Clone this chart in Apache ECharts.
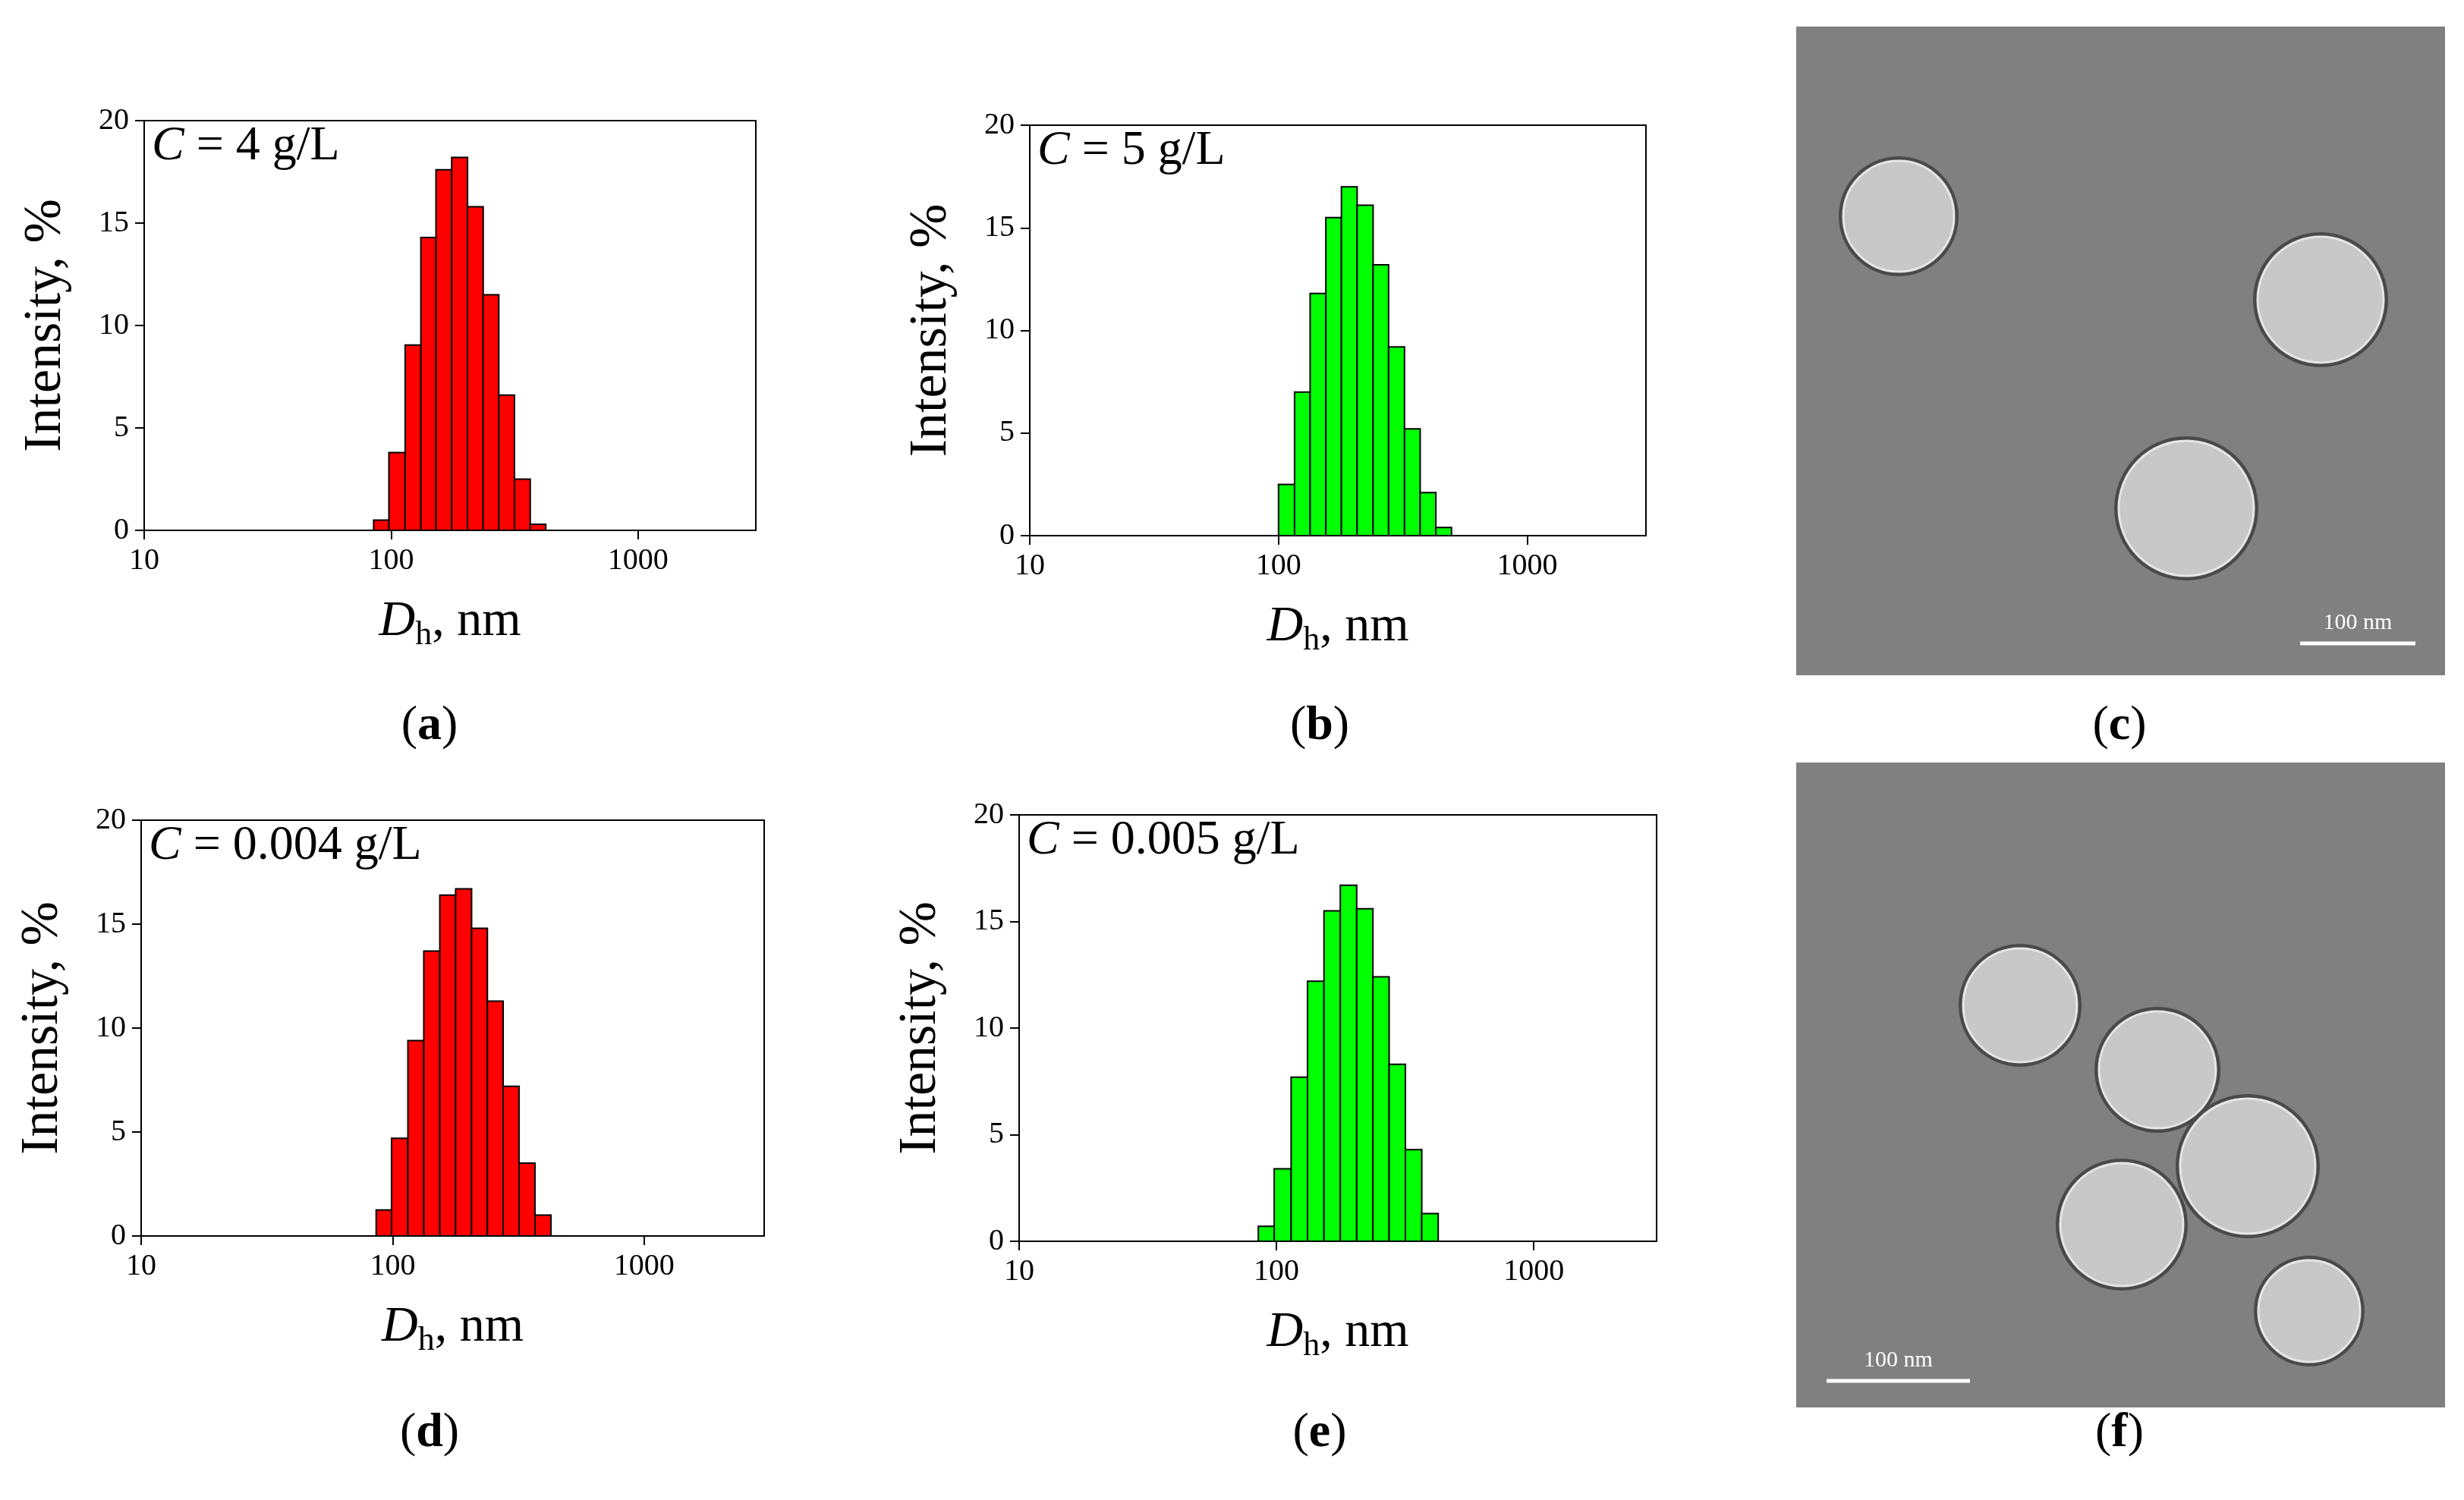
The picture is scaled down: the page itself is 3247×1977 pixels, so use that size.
<!DOCTYPE html>
<html>
<head>
<meta charset="utf-8">
<script src="https://cdn.jsdelivr.net/npm/echarts@6/dist/echarts.min.js"></script>
<style>html,body{margin:0;padding:0;background:#fff}#main{width:3247px;height:1977px}</style>
</head>
<body>
<div id="main"></div>
<script>
// bin edges (nm) and intensities (%) for each DLS panel
var edgesA = [85, 98, 114, 132, 152, 176, 204, 236, 273, 316, 366, 423];
var valuesA = [0.5, 3.8, 9.05, 14.3, 17.6, 18.2, 15.8, 11.5, 6.6, 2.5, 0.3];
var edgesB = [100, 116, 134, 155, 179, 207, 240, 277, 321, 371, 429, 496];
var valuesB = [2.5, 7.0, 11.8, 15.5, 17.0, 16.1, 13.2, 9.2, 5.2, 2.1, 0.4];
var edgesD = [86, 99, 115, 133, 154, 178, 206, 238, 275, 318, 368, 426];
var valuesD = [1.25, 4.7, 9.4, 13.7, 16.4, 16.7, 14.8, 11.3, 7.2, 3.5, 1.0];
var edgesE = [85, 98, 114, 132, 153, 177, 205, 237, 274, 317, 367, 425];
var valuesE = [0.7, 3.4, 7.7, 12.2, 15.5, 16.7, 15.6, 12.4, 8.3, 4.3, 1.3];
var yTicks = [0, 5, 10, 15, 20];
var concLabels = ['4 g/L', '5 g/L', '0.004 g/L', '0.005 g/L'];
var panelLetters = ['a', 'b', 'c', 'd', 'e', 'f'];

var FONT = 'Liberation Serif';
var chart = echarts.init(document.getElementById('main'));

var panels = [
  {edges: edgesA, values: valuesA, color: '#ff0000', box: [190, 159, 806, 540]},
  {edges: edgesB, values: valuesB, color: '#00ff00', box: [1357, 165, 812, 541]},
  {edges: edgesD, values: valuesD, color: '#ff0000', box: [186, 1081, 821, 548]},
  {edges: edgesE, values: valuesE, color: '#00ff00', box: [1343, 1074, 840, 562]}
];

var grids = [], xAxes = [], yAxes = [], series = [], graphics = [];

panels.forEach(function (p, i) {
  grids.push({left: p.box[0], top: p.box[1], width: p.box[2], height: p.box[3],
    show: true, borderColor: '#000', borderWidth: 2, backgroundColor: 'transparent'});
  xAxes.push({
    gridIndex: i, type: 'log', logBase: 10, min: 10, max: 3000,
    axisLine: {lineStyle: {color: '#000', width: 2}},
    axisTick: {show: true, inside: false, length: 12, lineStyle: {color: '#000', width: 2}},
    minorTick: {show: false}, splitLine: {show: false},
    axisLabel: {color: '#000', fontFamily: FONT, fontSize: 40, margin: 20, showMaxLabel: false,
      formatter: function (v) { return String(Math.round(v)); }},
    name: '{i|D}{s|h}{n|, nm}', nameLocation: 'middle', nameGap: 82,
    nameTextStyle: {rich: {
      i: {fontFamily: FONT, fontSize: 66, fontStyle: 'italic', color: '#000'},
      s: {fontFamily: FONT, fontSize: 44, color: '#000', verticalAlign: 'bottom', padding: [34, 0, 0, 0]},
      n: {fontFamily: FONT, fontSize: 66, color: '#000'}
    }}
  });
  yAxes.push({
    gridIndex: i, type: 'value', min: 0, max: 20, interval: 5,
    axisLine: {lineStyle: {color: '#000', width: 2}},
    axisTick: {show: true, inside: false, length: 12, lineStyle: {color: '#000', width: 2}},
    splitLine: {show: false},
    axisLabel: {color: '#000', fontFamily: FONT, fontSize: 40, margin: 20},
    name: 'Intensity, %', nameLocation: 'middle', nameGap: 94,
    nameTextStyle: {fontFamily: FONT, fontSize: 70, color: '#000'}
  });
  var data = p.values.map(function (v, k) { return [p.edges[k], p.edges[k + 1], v]; });
  series.push({
    type: 'custom', xAxisIndex: i, yAxisIndex: i, data: data,
    renderItem: (function (color) {
      return function (params, api) {
        var a = api.coord([api.value(0), api.value(2)]);
        var b = api.coord([api.value(1), 0]);
        return {type: 'rect', shape: {x: a[0], y: a[1], width: b[0] - a[0], height: b[1] - a[1]},
          style: {fill: color, stroke: '#000', lineWidth: 2}};
      };
    })(p.color)
  });
  graphics.push({type: 'text', left: p.box[0] + 10, top: p.box[1] + 2,
    style: {text: '{i|C}{n| = ' + concLabels[i] + '}', rich: {
      i: {fontFamily: FONT, fontSize: 64, fontStyle: 'italic', fill: '#000'},
      n: {fontFamily: FONT, fontSize: 64, fill: '#000'}}}});
});

// TEM micrograph placeholders
function temPanel(x, y, w, h, circles, bar) {
  graphics.push({type: 'rect', shape: {x: x, y: y, width: w, height: h}, style: {fill: '#808080'}});
  circles.forEach(function (c) {
    graphics.push({type: 'circle', shape: {cx: c[0], cy: c[1], r: c[2] + 6}, style: {fill: '#4a4a4a'}});
    graphics.push({type: 'circle', shape: {cx: c[0], cy: c[1], r: c[2]}, style: {fill: '#c8c8c8', stroke: '#e6e6e6', lineWidth: 3}});
  });
  graphics.push({type: 'line', shape: {x1: bar[0], y1: bar[2], x2: bar[1], y2: bar[2]}, style: {stroke: '#fff', lineWidth: 5}});
  graphics.push({type: 'text', x: (bar[0] + bar[1]) / 2, y: bar[2] - 12,
    style: {text: '100 nm', fill: '#fff', fontFamily: FONT, fontSize: 30, align: 'center', verticalAlign: 'bottom'}});
}
temPanel(2367, 35, 855, 855, [[2502, 285, 73], [3058, 395, 83], [2881, 670, 89]], [3031, 3183, 848]);
temPanel(2367, 1005, 855, 850, [[2662, 1325, 75], [2843, 1410, 77], [2962, 1537, 89], [2796, 1614, 81], [3043, 1728, 67]], [2407, 2596, 1820]);

// panel letters
var letterPos = [[566, 957], [1739, 957], [2793, 957], [566, 1889], [1739, 1889], [2793, 1889]];
panelLetters.forEach(function (l, i) {
  graphics.push({type: 'text', x: letterPos[i][0], y: letterPos[i][1],
    style: {text: '{n|(}{b|' + l + '}{n|)}', align: 'center', verticalAlign: 'middle', rich: {
      n: {fontFamily: FONT, fontSize: 64, fill: '#000'},
      b: {fontFamily: FONT, fontSize: 64, fontWeight: 'bold', fill: '#000'}}}});
});

chart.setOption({
  animation: false,
  backgroundColor: '#fff',
  grid: grids, xAxis: xAxes, yAxis: yAxes, series: series,
  graphic: graphics
});
</script>
</body>
</html>
